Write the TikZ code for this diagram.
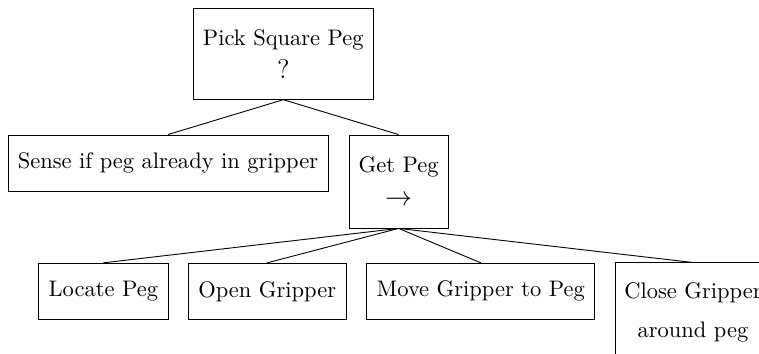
\documentclass[tikz,border=0pt]{standalone}
\begin{document}
\begin{tikzpicture}[x=0.4444pt,y=-0.4444pt,
  box/.style={draw,line width=0.4pt,inner sep=0pt,align=center,font=\fontsize{10}{12}\selectfont},
  edge/.style={draw,line width=0.4pt}]
\useasboundingbox (0,0) rectangle (759,354);
\node[box,minimum width=80pt,minimum height=40.4pt] (root) at (283.3,53.8) {Pick Square Peg\\[2.7pt]{\large ?}};
\node[box,minimum width=142.2pt,minimum height=24.9pt] (sense) at (168,163) {Sense if peg already in gripper};
\node[box,minimum width=44pt,minimum height=41.3pt] (get) at (398.6,181.5) {Get Peg\\[2.7pt]{\large $\rightarrow$}};
\node[box,minimum width=57.8pt,minimum height=24.9pt] (locate) at (103.3,291.3) {Locate Peg};
\node[box,minimum width=70.2pt,minimum height=24.9pt] (open) at (267.2,291.3) {Open Gripper};
\node[box,minimum width=101.3pt,minimum height=24.9pt] (move) at (480.8,291.3) {Move Gripper to Peg};
\node[box,minimum width=69.3pt,minimum height=43.6pt] (close) at (693,312) {Close Gripper\\[5.3pt]around peg};
\draw[edge] (root.south) -- (sense.north);
\draw[edge] (root.south) -- (get.north);
\draw[edge] (get.south) -- (locate.north);
\draw[edge] (get.south) -- (open.north);
\draw[edge] (get.south) -- (move.north);
\draw[edge] (get.south) -- (close.north);
\end{tikzpicture}
\end{document}
